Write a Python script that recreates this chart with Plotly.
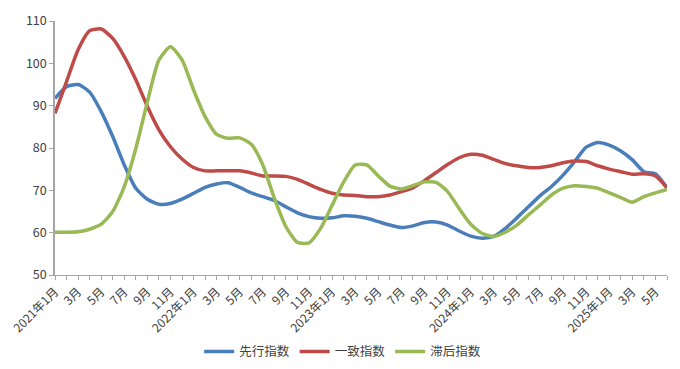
import plotly.graph_objects as go

months = [f"{y}年{m}月" for y in range(2021, 2026) for m in range(1, 13)][:54]
tick_text = [(m if m.endswith("年1月") else m.split("年")[1]) if i % 2 == 0 else "" for i, m in enumerate(months)]

leading = [91.7, 94.5, 95.0, 93.2, 88.6, 82.7, 76.0, 70.5, 67.9, 66.7, 66.9, 67.9, 69.3, 70.7,
           71.5, 71.8, 70.7, 69.4, 68.5, 67.6, 66.1, 64.7, 63.8, 63.4, 63.5, 64.0, 63.9, 63.4,
           62.6, 61.8, 61.2, 61.6, 62.4, 62.5, 61.8, 60.4, 59.2, 58.7, 59.1, 61.0, 63.5, 66.1,
           68.7, 70.9, 73.6, 76.8, 80.2, 81.3, 80.7, 79.3, 77.2, 74.4, 73.9, 70.6]
coincident = [88.2, 95.7, 103.2, 107.7, 108.1, 105.9, 101.6, 96.1, 89.8, 84.3, 80.3, 77.4, 75.4, 74.6,
              74.6, 74.6, 74.6, 74.1, 73.4, 73.4, 73.3, 72.6, 71.4, 70.2, 69.3, 68.9, 68.8, 68.5,
              68.5, 68.9, 69.7, 70.6, 72.3, 74.2, 76.1, 77.7, 78.5, 78.3, 77.3, 76.3, 75.8, 75.4,
              75.4, 75.8, 76.5, 76.9, 76.8, 75.8, 75.0, 74.4, 73.8, 73.9, 73.4, 70.6]
lagging = [60.1, 60.1, 60.2, 60.8, 62.0, 65.0, 70.9, 79.9, 90.9, 100.8, 103.9, 100.8, 93.7, 87.4,
           83.2, 82.3, 82.4, 80.9, 76.0, 68.1, 61.4, 57.7, 57.6, 61.0, 66.5, 72.0, 76.0, 76.0,
           73.4, 71.0, 70.3, 71.1, 72.0, 71.9, 69.7, 65.7, 62.0, 59.8, 59.1, 60.1, 61.8, 64.2,
           66.5, 68.9, 70.5, 71.1, 70.9, 70.5, 69.4, 68.3, 67.2, 68.5, 69.4, 70.2]

series = [("先行指数", leading, "#4A7EBB"),
          ("一致指数", coincident, "#BE4B48"),
          ("滞后指数", lagging, "#98B954")]

fig = go.Figure()
for name, vals, color in series:
    fig.add_trace(go.Scatter(x=months, y=vals, name=name, mode="lines",
                             line=dict(color=color, width=3.5, shape="spline", smoothing=0.6)))

font = "Noto Sans CJK SC, Noto Sans, sans-serif"
fig.update_layout(
    width=680, height=369,
    margin=dict(l=47, r=21, t=13, b=102, autoexpand=False),
    paper_bgcolor="white", plot_bgcolor="white",
    font=dict(family=font, size=12, color="#404040"),
    showlegend=True,
    legend=dict(orientation="h", x=0.47, xanchor="center", y=-0.303, yanchor="middle",
                font=dict(size=12.5, color="#404040")),
    xaxis=dict(type="category", range=[0, 53], tickmode="array", tickvals=months, ticktext=tick_text,
               tickangle=-45, showgrid=False, showline=True, linecolor="#A6A6A6", linewidth=1,
               ticks="outside", ticklen=4, tickcolor="#A6A6A6", tickfont=dict(size=12),
               automargin=False),
    yaxis=dict(range=[50, 110], dtick=10, showgrid=False, zeroline=False, showline=True,
               linecolor="#A6A6A6", linewidth=1.5, ticks="outside", ticklen=4, tickcolor="#A6A6A6",
               tickfont=dict(size=12.5), automargin=False),
)
fig.write_html("out.html")
